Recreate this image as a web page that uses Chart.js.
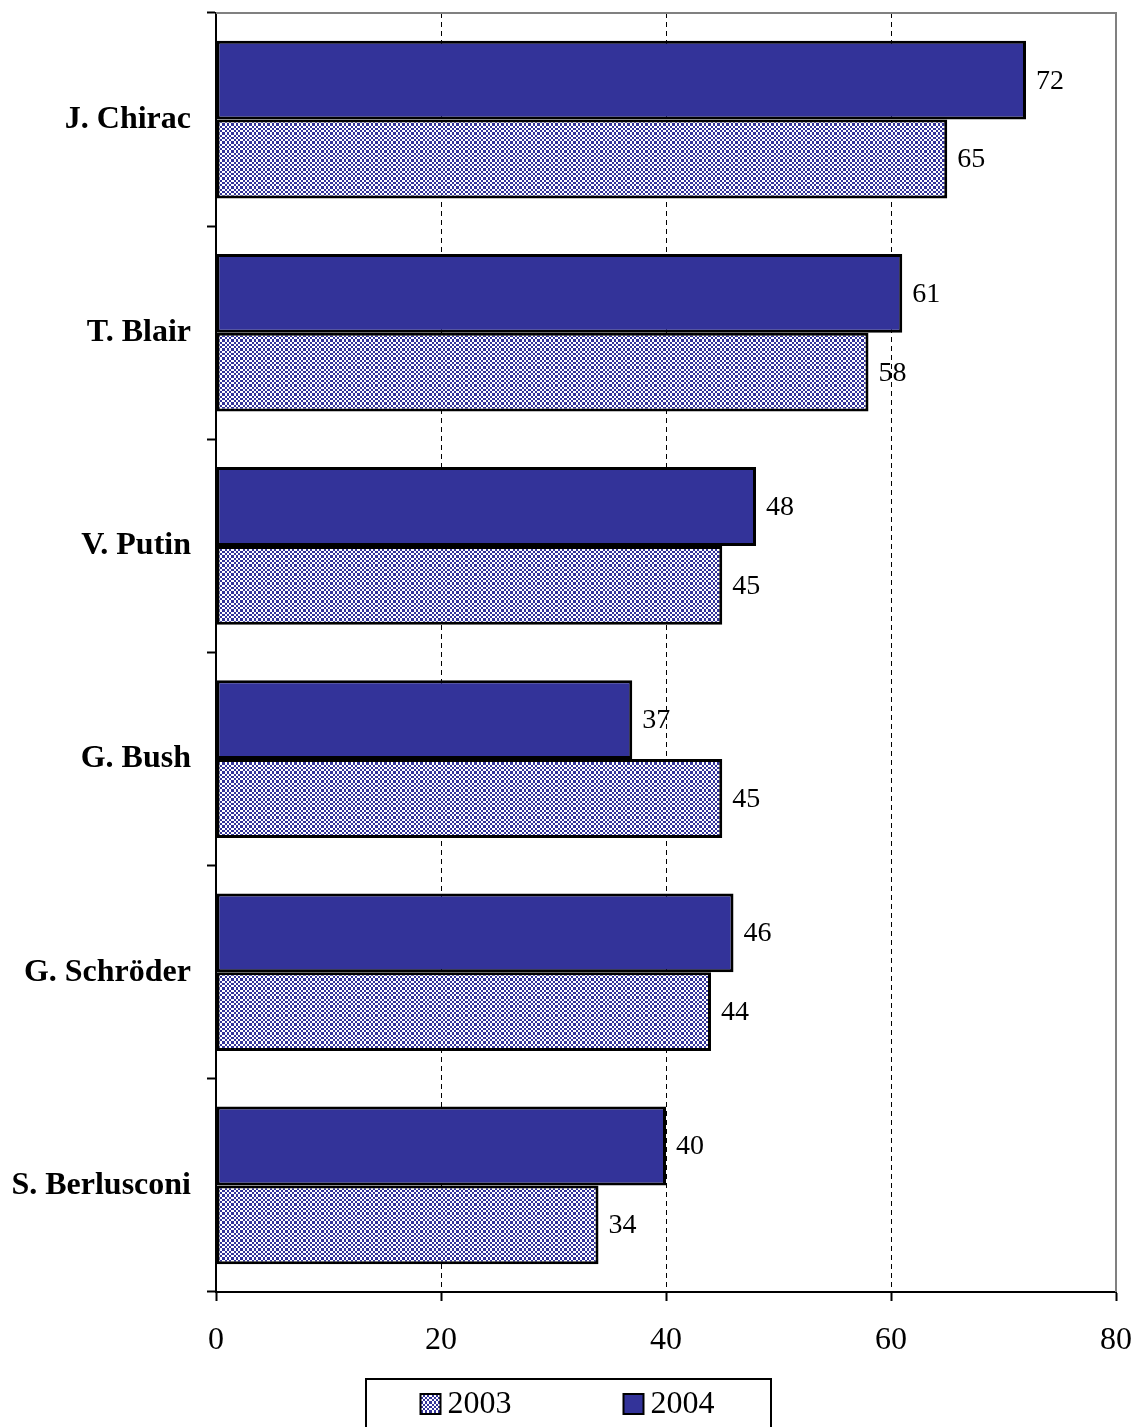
<!DOCTYPE html>
<html>
<head>
<meta charset="utf-8">
<script src="https://cdn.jsdelivr.net/npm/chart.js@4.4.0/dist/chart.umd.min.js"></script>
<style>
  html, body { margin: 0; padding: 0; background: #ffffff; }
  #wrap { width: 1135px; height: 1427px; }
</style>
</head>
<body>
<div id="wrap"><canvas id="c" width="1135" height="1427"></canvas></div>
<script>
const categories = ['J. Chirac', 'T. Blair', 'V. Putin', 'G. Bush', 'G. Schröder', 'S. Berlusconi'];
const values2004 = [72, 61, 48, 37, 46, 40];
const values2003 = [65, 58, 45, 45, 44, 34];
const xTicks = [0, 20, 40, 60, 80];
const seriesLabels = ['2003', '2004'];

const BLUE = '#333399';
const SERIF = "'Liberation Serif', 'Times New Roman', serif";

function makePattern() {
  const edges = [0, 2, 4, 6, 9, 11, 13, 15, 18];
  const p = document.createElement('canvas');
  p.width = 18; p.height = 18;
  const g = p.getContext('2d');
  g.fillStyle = '#ffffff';
  g.fillRect(0, 0, 18, 18);
  g.fillStyle = BLUE;
  for (let i = 0; i < 8; i++) {
    for (let j = 0; j < 8; j++) {
      if ((i + j) % 2 === 0) {
        g.fillRect(edges[i], edges[j], edges[i + 1] - edges[i], edges[j + 1] - edges[j]);
      }
    }
  }
  return g.createPattern(p, 'repeat');
}
const ctx = document.getElementById('c').getContext('2d');
const pattern = makePattern();

const valueLabels = {
  id: 'valueLabels',
  afterDatasetsDraw(chart) {
    const c = chart.ctx;
    c.save();
    c.font = '28px ' + SERIF;
    c.fillStyle = '#000';
    c.textAlign = 'left';
    c.textBaseline = 'middle';
    chart.data.datasets.forEach((ds, i) => {
      chart.getDatasetMeta(i).data.forEach((el, j) => {
        c.fillText(String(ds.data[j]), el.x + 10, el.y + 1);
      });
    });
    c.restore();
  }
};

const frame = {
  id: 'frame',
  beforeDatasetsDraw(chart) {
    const a = chart.chartArea, c = chart.ctx;
    c.save();
    c.strokeStyle = '#808080';
    c.lineWidth = 2;
    c.beginPath();
    c.moveTo(a.left, a.top);
    c.lineTo(a.right, a.top);
    c.lineTo(a.right, a.bottom);
    c.stroke();
    c.restore();
  }
};

const boxLegend = {
  id: 'boxLegend',
  afterDraw(chart) {
    const c = chart.ctx;
    const W = chart.width;
    c.save();
    c.font = '32px ' + SERIF;
    const order = [1, 0];
    const sw = 20, gap = 7, itemGap = 112;
    const widths = order.map(i => sw + gap + c.measureText(chart.data.datasets[i].label).width);
    const total = widths[0] + itemGap + widths[1];
    let x = W / 2 - total / 2;
    const boxL = 366, boxR = 771, boxT = 1379;
    c.strokeStyle = '#000';
    c.lineWidth = 2;
    c.strokeRect(boxL, boxT, boxR - boxL, 60);
    const cy = 1404;
    order.forEach((i, k) => {
      const ds = chart.data.datasets[i];
      c.fillStyle = ds.backgroundColor;
      c.fillRect(x, cy - 10, sw, sw);
      c.strokeStyle = '#000';
      c.lineWidth = 2;
      c.strokeRect(x, cy - 10, sw, sw);
      c.fillStyle = '#000';
      c.textAlign = 'left';
      c.textBaseline = 'middle';
      c.fillText(ds.label, x + sw + gap, cy + 1);
      x += widths[k] + itemGap;
    });
    c.restore();
  }
};

new Chart(ctx, {
  type: 'bar',
  data: {
    labels: categories,
    datasets: [
      { label: seriesLabels[1], data: values2004, backgroundColor: BLUE, borderColor: '#000', borderWidth: 3, borderSkipped: false },
      { label: seriesLabels[0], data: values2003, backgroundColor: pattern, borderColor: '#000', borderWidth: 3, borderSkipped: false }
    ]
  },
  options: {
    indexAxis: 'y',
    responsive: false,
    animation: false,
    devicePixelRatio: 1,
    layout: { padding: { top: 13, right: 19, left: 0, bottom: 0 } },
    datasets: { bar: { categoryPercentage: 0.74, barPercentage: 1.0 } },
    plugins: { legend: { display: false }, tooltip: { enabled: false } },
    scales: {
      x: {
        min: 0, max: 80,
        afterBuildTicks(scale) { scale.ticks = xTicks.map(v => ({ value: v })); },
        afterFit(scale) { scale.height = 135; scale.paddingLeft = 0; scale.paddingRight = 0; },
        border: { display: true, color: '#000', width: 2, dash: [5, 4] },
        grid: {
          color: (c) => (c.tick && (c.tick.value === 0 || c.tick.value === 80)) ? 'rgba(0,0,0,0)' : '#000',
          lineWidth: 1,
          drawTicks: true,
          tickLength: 9,
          tickColor: '#000',
          tickWidth: 2,
          tickBorderDash: []
        },
        ticks: { color: '#000', font: { family: SERIF, size: 32 }, padding: 20, maxRotation: 0 }
      },
      y: {
        afterFit(scale) { scale.width = 216; scale.paddingTop = 0; scale.paddingBottom = 0; },
        border: { display: true, color: '#000', width: 2 },
        grid: { offset: true, drawOnChartArea: false, drawTicks: true, tickLength: 9, tickColor: '#000', tickWidth: 2 },
        ticks: { color: '#000', font: { family: SERIF, size: 32, weight: 'bold' }, padding: 16 }
      }
    }
  },
  plugins: [frame, valueLabels, boxLegend]
});
</script>
</body>
</html>
